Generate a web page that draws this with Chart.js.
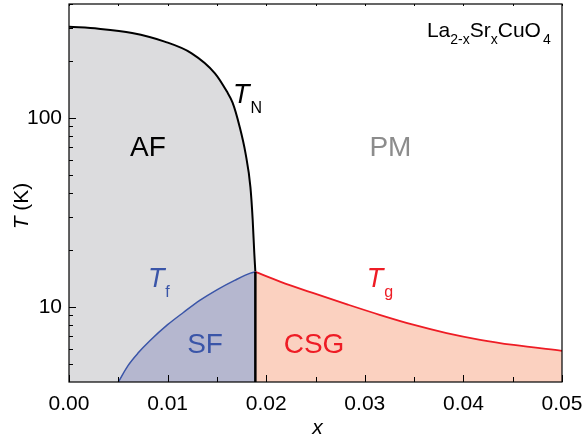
<!DOCTYPE html>
<html>
<head>
<meta charset="utf-8">
<script src="https://cdn.jsdelivr.net/npm/chart.js@4"></script>
<style>
  html, body { margin: 0; padding: 0; background: #fff; }
  #wrap { width: 585px; height: 442px; }
</style>
</head>
<body>
<div id="wrap"><canvas id="phase"></canvas></div>
<script>
// Neel temperature T_N (x, K)
const tnX = [0, 0.003, 0.0064, 0.0097, 0.0124, 0.0148, 0.016, 0.0166, 0.0173, 0.0179, 0.0184, 0.01863, 0.01879, 0.0189];
const tnT = [303, 296, 281, 253, 220, 172, 138, 120, 90, 65, 43, 28.8, 19.3, 15.3];

// spin freezing T_f
const tfX = [0.005, 0.006, 0.007, 0.0082, 0.01, 0.0116, 0.0133, 0.015, 0.0168, 0.0184, 0.0189];
const tfT = [4, 4.9, 5.69, 6.61, 8.04, 9.33, 10.84, 12.3, 13.8, 15.07, 15.3];

// cluster spin glass T_g
const tgX = [0.0189, 0.0214, 0.0248, 0.0282, 0.0315, 0.0349, 0.0383, 0.0417, 0.0451, 0.05];
const tgT = [15.3, 13.6, 11.8, 10.3, 9.07, 8.04, 7.26, 6.69, 6.28, 5.85];

const xTicks = [0, 0.01, 0.02, 0.03, 0.04, 0.05];
const yTicks = [10, 100];

const FONT = "'Liberation Sans', Arial, Helvetica, sans-serif";

function pts(xs, ys) {
  return xs.map((x, i) => ({ x: x, y: ys[i] }));
}

// text drawn in data coordinates
const labels = [
  { text: "AF", x: 0.008, y: 69, color: "#000" },
  { text: "PM", x: 0.0326, y: 69, color: "#8c8c8c" },
  { text: "SF", x: 0.0138, y: 6.23, color: "#3a55a8" },
  { text: "CSG", x: 0.02485, y: 6.23, color: "#ee1c25" }
];
const temps = [
  { sub: "N", x: 0.01663, y: 120, color: "#000" },
  { sub: "f", x: 0.0080, y: 12.8, color: "#3a55a8" },
  { sub: "g", x: 0.0302, y: 12.8, color: "#ee1c25" }
];

const decor = {
  id: "decor",
  afterDraw(chart) {
    const ctx = chart.ctx;
    const a = chart.chartArea;
    const xs = chart.scales.x, ys = chart.scales.y;
    ctx.save();

    // frame
    ctx.strokeStyle = "#000";
    ctx.lineWidth = 1.2;
    ctx.strokeRect(a.left, a.top, a.right - a.left, a.bottom - a.top);

    // inward ticks
    ctx.lineWidth = 1;
    ctx.beginPath();
    for (let v = 0; v <= 0.0501; v += 0.005) {
      const px = Math.round(xs.getPixelForValue(v)) + 0.5;
      const major = Math.abs(v / 0.01 - Math.round(v / 0.01)) < 1e-6;
      ctx.moveTo(px, a.bottom);
      ctx.lineTo(px, a.bottom - (major ? 7 : 5));
      ctx.moveTo(px, a.top);
      ctx.lineTo(px, a.top + 2);
    }
    const yMinor = [5, 6, 7, 8, 9, 10, 20, 30, 40, 50, 60, 70, 80, 90, 100, 200, 300, 400];
    yMinor.forEach(v => {
      const py = Math.round(ys.getPixelForValue(v)) + 0.5;
      const major = v === 10 || v === 100;
      ctx.moveTo(a.left, py);
      ctx.lineTo(a.left + (major ? 7 : 4), py);
    });
    ctx.stroke();

    // region labels
    ctx.font = "28px " + FONT;
    ctx.textAlign = "center";
    ctx.textBaseline = "middle";
    labels.forEach(l => {
      ctx.fillStyle = l.color;
      ctx.fillText(l.text, xs.getPixelForValue(l.x), ys.getPixelForValue(l.y));
    });

    // T_N, T_f, T_g
    ctx.textAlign = "left";
    ctx.textBaseline = "alphabetic";
    temps.forEach(t => {
      const px = xs.getPixelForValue(t.x), py = ys.getPixelForValue(t.y);
      ctx.fillStyle = t.color;
      ctx.font = "italic 27px " + FONT;
      ctx.fillText("T", px, py);
      const w = ctx.measureText("T").width;
      ctx.font = "16px " + FONT;
      ctx.fillText(t.sub, px + w + 1, py + 10);
    });

    // compound name
    let cx = xs.getPixelForValue(0.0363);
    const cy = ys.getPixelForValue(269);
    ctx.fillStyle = "#000";
    const parts = [["La", 0], ["2-x", 1], ["Sr", 0], ["x", 1], ["CuO", 0], ["4", 1]];
    parts.forEach(p => {
      ctx.font = p[1] ? "14px " + FONT : "21px " + FONT;
      ctx.fillText(p[0], cx + (p[0] === "4" ? 2 : 0), cy + (p[1] ? 7 : 0));
      cx += ctx.measureText(p[0]).width;
    });

    // axis titles
    ctx.font = "italic 21px " + FONT;
    ctx.textAlign = "center";
    ctx.fillText("x", (a.left + a.right) / 2 + 2, a.bottom + 52);

    ctx.translate(28, (a.top + a.bottom) / 2 + 13);
    ctx.rotate(-Math.PI / 2);
    ctx.textAlign = "left";
    const tw = ctx.measureText("T").width;
    ctx.font = "21px " + FONT;
    const kw = ctx.measureText(" (K)").width;
    const start = -(tw + kw) / 2;
    ctx.font = "italic 21px " + FONT;
    ctx.fillText("T", start, 0);
    ctx.font = "21px " + FONT;
    ctx.fillText(" (K)", start + tw, 0);

    ctx.restore();
  }
};

new Chart(document.getElementById("phase"), {
  type: "line",
  data: {
    datasets: [
      {
        data: [{ x: 0.0189, y: 15.3 }, { x: 0.0189, y: 4 }],
        borderColor: "#000",
        borderWidth: 2.5,
        fill: false
      },
      {
        data: pts(tfX, tfT),
        borderColor: "#3a55a8",
        borderWidth: 1.5,
        backgroundColor: "#b5b7cf",
        fill: "start",
        cubicInterpolationMode: "monotone"
      },
      {
        data: pts(tgX, tgT),
        borderColor: "#ee1c25",
        borderWidth: 1.8,
        backgroundColor: "#fbd1c0",
        fill: "start",
        cubicInterpolationMode: "monotone"
      },
      {
        data: pts(tnX, tnT),
        borderColor: "#000",
        borderWidth: 2,
        backgroundColor: "#dcdcde",
        fill: "start",
        cubicInterpolationMode: "monotone"
      }
    ]
  },
  options: {
    responsive: true,
    maintainAspectRatio: false,
    animation: false,
    layout: { padding: { left: 26, right: 23, top: 4, bottom: 0 } },
    elements: { point: { radius: 0 } },
    plugins: { legend: { display: false }, tooltip: { enabled: false } },
    scales: {
      x: {
        type: "linear",
        min: 0,
        max: 0.05,
        grid: { display: false, drawTicks: false },
        border: { display: false },
        afterBuildTicks: s => { s.ticks = xTicks.map(v => ({ value: v })); },
        afterFit: s => { s.height = 60; s.paddingLeft = 0; s.paddingRight = 0; },
        ticks: {
          padding: 10,
          color: "#000",
          font: { family: FONT, size: 21 },
          maxRotation: 0,
          autoSkip: false,
          callback: v => v.toFixed(2)
        }
      },
      y: {
        type: "logarithmic",
        min: 4,
        max: 400,
        grid: { display: false, drawTicks: false },
        border: { display: false },
        afterBuildTicks: s => { s.ticks = yTicks.map(v => ({ value: v })); },
        afterFit: s => { s.width = 43; s.paddingTop = 0; s.paddingBottom = 0; },
        ticks: {
          padding: 7,
          color: "#000",
          font: { family: FONT, size: 21 },
          callback: v => String(v)
        }
      }
    }
  },
  plugins: [decor]
});
</script>
</body>
</html>
